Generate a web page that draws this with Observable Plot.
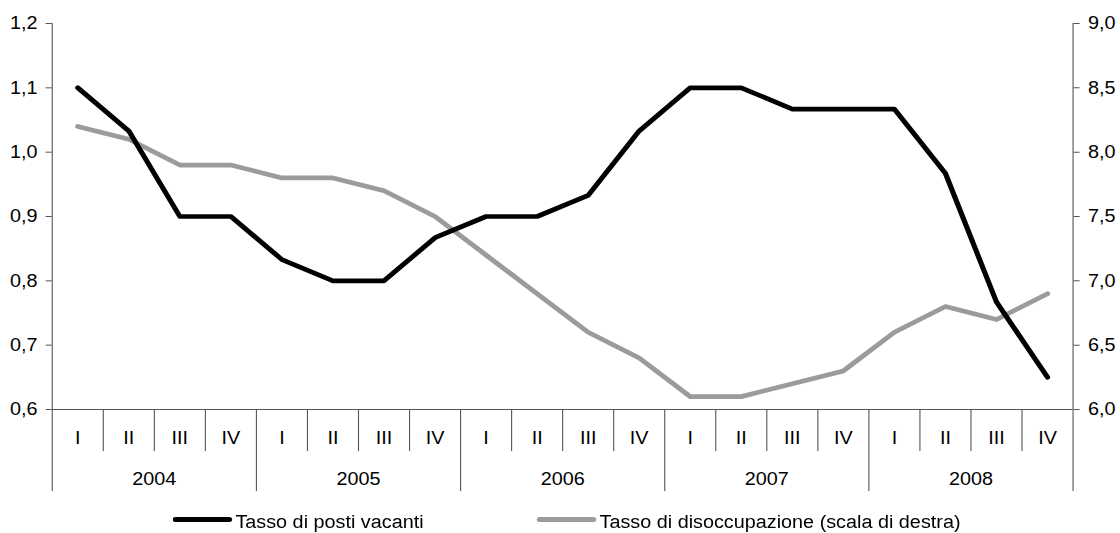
<!DOCTYPE html>
<html>
<head>
<meta charset="utf-8">
<script src="https://cdn.jsdelivr.net/npm/d3@7"></script>
<script src="https://cdn.jsdelivr.net/npm/@observablehq/plot@0.6"></script>
<style>
  html, body { margin: 0; padding: 0; background: #fff; }
  body { font-family: "Liberation Sans", Arial, sans-serif; }
  #wrap { width: 1018px; transform: scaleX(1.1); transform-origin: 0 0; }
  #legend { position: relative; height: 33px; font-size: 18px; color: #000; line-height: 18px; }
  #legend .sw { position: absolute; height: 5px; border-radius: 2.5px; }
  #legend .lb { position: absolute; white-space: nowrap; }
</style>
</head>
<body>
<div id="wrap">
  <div id="chart"></div>
  <div id="legend"></div>
</div>
<script>
// ---- data ----
const years = ["2004", "2005", "2006", "2007", "2008"];
const quarters = ["I", "II", "III", "IV"];
const vacancyRate = [1.1, 1.033, 0.9, 0.9, 0.833, 0.8, 0.8, 0.867, 0.9, 0.9, 0.933, 1.033, 1.1, 1.1, 1.067, 1.067, 1.067, 0.967, 0.767, 0.65];
const unemploymentRate = [8.2, 8.1, 7.9, 7.9, 7.8, 7.8, 7.7, 7.5, 7.2, 6.9, 6.6, 6.4, 6.1, 6.1, 6.2, 6.3, 6.6, 6.8, 6.7, 6.9];
const leftTicks = [0.6, 0.7, 0.8, 0.9, 1.0, 1.1, 1.2];
const rightTicks = [6.0, 6.5, 7.0, 7.5, 8.0, 8.5, 9.0];
const seriesNames = ["Tasso di posti vacanti", "Tasso di disoccupazione (scala di destra)"];
const seriesColors = ["#000000", "#9b9b9b"];

// ---- helpers ----
const fmt = d => d.toFixed(1).replace(".", ",");
const leftDomain = [leftTicks[0], leftTicks[leftTicks.length - 1]];
const rightDomain = [rightTicks[0], rightTicks[rightTicks.length - 1]];
const toLeft = u => leftDomain[0] + (u - rightDomain[0]) / (rightDomain[1] - rightDomain[0]) * (leftDomain[1] - leftDomain[0]);
const toRight = v => rightDomain[0] + (v - leftDomain[0]) / (leftDomain[1] - leftDomain[0]) * (rightDomain[1] - rightDomain[0]);

const nQ = quarters.length;
const nAll = years.length * nQ;
const qIdx = d3.range(nAll);
const qCenters = qIdx.map(i => i + 0.5);
const allBounds = d3.range(nAll + 1);
const yearBounds = allBounds.filter(b => b % nQ === 0);
const quarterBounds = allBounds.filter(b => b % nQ !== 0);
const yearCenters = years.map((y, i) => i * nQ + nQ / 2);

const axisColor = "#555";
const fontSize = 18;

const chart = Plot.plot({
  width: 1018,
  height: 500,
  marginLeft: 47,
  marginRight: 43,
  marginTop: 23,
  marginBottom: 91,
  style: { fontFamily: "'Liberation Sans', Arial, sans-serif", fontSize: fontSize + "px", color: "#000", background: "#fff" },
  x: { domain: [0, nAll], label: null },
  y: { domain: leftDomain, label: null },
  marks: [
    // frame lines
    Plot.ruleY([leftDomain[0]], { stroke: axisColor }),
    Plot.ruleX([0, nAll], { stroke: axisColor }),
    // left axis
    Plot.axisY(leftTicks, { anchor: "left", tickSize: 5.5, tickPadding: 8, tickFormat: fmt, stroke: axisColor, fill: "#000", label: null, fontSize }),
    // right axis (unemployment scale)
    Plot.axisY(rightTicks.map(toLeft), { anchor: "right", tickSize: 5.5, tickPadding: 8, tickFormat: d => fmt(Math.round(toRight(d) * 10) / 10), stroke: axisColor, fill: "#000", label: null, fontSize }),
    // x: year separators (long) and quarter separators (short)
    Plot.axisX(yearBounds, { anchor: "bottom", tickSize: 82, tickFormat: () => "", stroke: axisColor, label: null }),
    Plot.axisX(quarterBounds, { anchor: "bottom", tickSize: 42, tickFormat: () => "", stroke: axisColor, label: null }),
    // x: quarter labels
    Plot.axisX(qCenters, { anchor: "bottom", tickSize: 0, tickPadding: 22, tickFormat: d => quarters[Math.floor(d) % nQ], fill: "#000", label: null, fontSize }),
    // x: year labels
    Plot.axisX(yearCenters, { anchor: "bottom", tickSize: 0, tickPadding: 63, tickFormat: d => years[Math.floor(d / nQ)], fill: "#000", label: null, fontSize }),
    // series
    Plot.line(unemploymentRate, { x: (d, i) => i + 0.5, y: d => toLeft(d), stroke: seriesColors[1], strokeWidth: 4.7, strokeLinejoin: "round", strokeLinecap: "round" }),
    Plot.line(vacancyRate, { x: (d, i) => i + 0.5, y: d => d, stroke: seriesColors[0], strokeWidth: 4.7, strokeLinejoin: "round", strokeLinecap: "round" })
  ]
});
document.getElementById("chart").appendChild(chart);

// ---- legend ----
const legend = document.getElementById("legend");
const legendItems = [
  { swatchLeft: 157, textLeft: 214 },
  { swatchLeft: 488, textLeft: 545 }
];
seriesNames.forEach((name, i) => {
  const sw = document.createElement("div");
  sw.className = "sw";
  sw.style.left = legendItems[i].swatchLeft + "px";
  sw.style.width = "54px";
  sw.style.top = "17px";
  sw.style.background = seriesColors[i];
  legend.appendChild(sw);
  const lb = document.createElement("div");
  lb.className = "lb";
  lb.style.left = legendItems[i].textLeft + "px";
  lb.style.top = "13px";
  lb.textContent = name;
  legend.appendChild(lb);
});
</script>
</body>
</html>
